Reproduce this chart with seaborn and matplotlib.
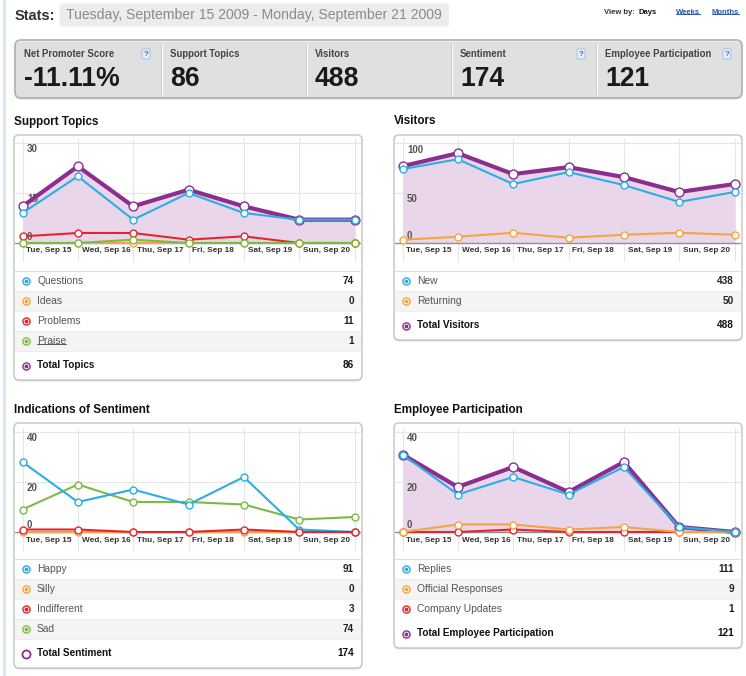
import numpy as np
import matplotlib
matplotlib.use("Agg")
import matplotlib.pyplot as plt
from matplotlib.patches import FancyBboxPatch, Rectangle
from matplotlib.colors import LinearSegmentedColormap
import seaborn as sns

W, H = 746, 676

# --- values ---
days = ["Tue, Sep 15", "Wed, Sep 16", "Thu, Sep 17", "Fri, Sep 18",
        "Sat, Sep 19", "Sun, Sep 20", "Mon, Sep 21"]

stat_labels = ["Net Promoter Score", "Support Topics", "Visitors",
               "Sentiment", "Employee Participation"]
stat_values = ["-11.11%", "86", "488", "174", "121"]
stat_help = [True, False, False, True, True]

topics_questions = [9, 20, 7, 15, 9, 7, 7]
topics_ideas = [0, 0, 0, 0, 0, 0, 0]
topics_problems = [2, 3, 3, 1, 2, 0, 0]
topics_praise = [0, 0, 1, 0, 0, 0, 0]
topics_total = [11, 23, 11, 16, 11, 7, 7]
topics_names = ["Questions", "Ideas", "Problems", "Praise"]
topics_sums = [74, 0, 11, 1]

visitors_new = [74, 84, 59, 71, 58, 41, 51]
visitors_returning = [3, 6, 10, 5, 8, 10, 8]
visitors_total = [77, 90, 69, 76, 66, 51, 59]
visitors_names = ["New", "Returning"]
visitors_sums = [438, 50]

sent_happy = [28, 12, 17, 11, 22, 1, 0]
sent_silly = [0, 0, 0, 0, 0, 0, 0]
sent_indifferent = [1, 1, 0, 0, 1, 0, 0]
sent_sad = [9, 19, 12, 12, 11, 5, 6]
sent_names = ["Happy", "Silly", "Indifferent", "Sad"]
sent_sums = [91, 0, 3, 74]

emp_replies = [31, 15, 22, 15, 26, 2, 0]
emp_official = [0, 3, 3, 1, 2, 0, 0]
emp_updates = [0, 0, 1, 0, 0, 0, 0]
emp_total = [31, 18, 26, 16, 28, 2, 0]
emp_names = ["Replies", "Official Responses", "Company Updates"]
emp_sums = [111, 9, 1]

BLUE = "#2aaee3"
ORANGE = "#f5a443"
RED = "#e3262e"
GREEN = "#7cba44"
PURPLE = "#8b2f8f"
FILL = "#ead6eb"

sns.set_style("white")
plt.rcParams['font.family'] = ['Liberation Sans', 'DejaVu Sans']


def fs(px):
    # pixel size -> points at 100 dpi
    return px * 0.72


fig = plt.figure(figsize=(W / 100, H / 100), dpi=100)
bg = fig.add_axes([0, 0, 1, 1])
bg.set_xlim(0, W)
bg.set_ylim(H, 0)
bg.axis('off')


def rounded(x0, y0, x1, y1, r=5, fc='white', ec='#c6c6c6', lw=1.0, zorder=1, shadow=True):
    style = f"round,pad=0,rounding_size={r}"
    if shadow:
        bg.add_patch(FancyBboxPatch((x0, y0 + 1.5), x1 - x0, y1 - y0, boxstyle=style,
                                    fc='#e0e0e0', ec='none', zorder=zorder - 0.1))
    box = FancyBboxPatch((x0, y0), x1 - x0, y1 - y0, boxstyle=style,
                         fc=fc, ec=ec, lw=lw, zorder=zorder)
    bg.add_patch(box)
    return box


# left page border
bg.plot([4, 4], [0, H], color='#d4e6f1', lw=2, zorder=0)

# --- header ---
bg.text(15, 15.5, "Stats:", fontsize=fs(14.6), fontweight='bold', color='#333', va='center')
rounded(59.5, 3.5, 449, 26.5, r=3, fc='#ececec', ec='none', shadow=False)
bg.text(66, 15.5, "Tuesday, September 15 2009 - Monday, September 21 2009",
        fontsize=fs(14), color='#8a8a8a', va='center', zorder=2)

bg.text(604.3, 12.7, "View by:", fontsize=fs(7.6), fontweight='bold', color='#333', va='center')
bg.text(638.7, 12.7, "Days", fontsize=fs(7.6), fontweight='bold', color='#111', va='center')
link_texts = [bg.text(676, 12.7, "Weeks", fontsize=fs(7.6), fontweight='bold', color='#2b57a8', va='center'),
              bg.text(711.7, 12.7, "Months", fontsize=fs(7.6), fontweight='bold', color='#2b57a8', va='center')]

# --- stats strip ---
stats_box = rounded(15, 40, 742, 98, r=6, fc='none', ec='#b3b3b3', lw=1.3, zorder=3)
cmap = LinearSegmentedColormap.from_list('strip', ['#fcfcfc', '#e4e4e4'])
im = bg.imshow(np.linspace(0, 1, 64).reshape(-1, 1), cmap=cmap, extent=(15, 742, 98, 40),
               aspect='auto', zorder=2)
im.set_clip_path(stats_box)
bg.set_xlim(0, W)
bg.set_ylim(H, 0)

dividers = [161, 306, 451, 596]
for xd in dividers:
    bg.plot([xd, xd], [44, 94], color='#c8c8c8', lw=0.8, zorder=4)
    bg.plot([xd + 1, xd + 1], [44, 94], color='white', lw=0.8, zorder=4)

edges = [15] + dividers + [742]
for i, (lab, val) in enumerate(zip(stat_labels, stat_values)):
    lx = edges[i] + 9
    bg.text(lx, 57.3, lab, fontsize=fs(9.7), fontweight='bold', color='#444', va='baseline', zorder=5)
    bg.text(lx, 85.5, val, fontsize=fs(26.5), fontweight='bold', color='#1a1a1a', va='baseline', zorder=5)
    if stat_help[i]:
        qx = edges[i + 1] - 19
        bg.add_patch(FancyBboxPatch((qx, 49), 8, 10, boxstyle="round,pad=0,rounding_size=1",
                                    fc='#e4eefa', ec='#9dbbe0', lw=0.6, zorder=5))
        bg.text(qx + 4, 54.3, "?", fontsize=fs(8), fontweight='bold', color='#3b6fb6',
                ha='center', va='center', zorder=6)


# --- panels ---
def chart(left, right, top_y, zero_y, ymax, ticks, series, total=None):
    x_first = left + 8.5
    x_last = right - 7.5
    step = (x_last - x_first) / 6
    scale = (zero_y - top_y) / ymax
    ax_top = top_y - 4
    ax_bot = zero_y + 19
    ax = fig.add_axes([(left + 1) / W, 1 - ax_bot / H, (right - left - 2) / W, (ax_bot - ax_top) / H])
    ax.set_facecolor('none')
    idx = list(range(len(days)))

    if total is not None:
        ax.fill_between(idx, total, 0, color=FILL, lw=0, zorder=1)
        sns.lineplot(x=idx, y=total, ax=ax, color=PURPLE, lw=3, marker='o', markersize=6.4,
                     markerfacecolor='white', markeredgecolor=PURPLE, markeredgewidth=1.0,
                     errorbar=None, clip_on=False, zorder=3)
    for vals, col in series:
        sns.lineplot(x=idx, y=vals, ax=ax, color=col, lw=1.5, marker='o', markersize=5,
                     markerfacecolor='white', markeredgecolor=col, markeredgewidth=1.0,
                     errorbar=None, clip_on=False, zorder=4)

    for i in idx:
        ax.axvline(i, color='#e6e6e6', lw=0.8, zorder=0.5)
    for t in ticks:
        if t == 0:
            ax.axhline(0, color='#8f8f8f', lw=1.0, zorder=2)
            dy = 6.5
        else:
            ax.axhline(t, color='#e6e6e6', lw=0.8, zorder=0.5)
            dy = -6.3
        ax.annotate(str(t), xy=(0, t), xycoords=('axes fraction', 'data'), xytext=(12, dy),
                    textcoords='offset pixels', ha='left', va='center', fontsize=fs(9.8),
                    fontweight='bold', color='#555', zorder=1.5, annotation_clip=False)
    for i, d in enumerate(days[:-1]):
        ax.annotate(d, xy=(i, 0), xytext=(4, -8), textcoords='offset pixels', ha='left',
                    va='center', fontsize=fs(8.3), fontweight='bold', color='#333',
                    annotation_clip=False)

    ax.set_xlim((left + 1 - x_first) / step, 6 + (right - 1 - x_last) / step)
    ax.set_ylim(-(ax_bot - zero_y) / scale, ymax + (top_y - ax_top) / scale)
    ax.set_xticks([])
    ax.set_yticks([])
    ax.set_xlabel('')
    ax.set_ylabel('')
    for s in ax.spines.values():
        s.set_visible(False)
    return ax


def icon(x, y, col, hollow=False):
    if hollow:
        bg.scatter([x], [y], s=34, facecolor='white', edgecolor=col, linewidth=1.3, zorder=5)
    else:
        bg.scatter([x], [y], s=38, color=col, linewidth=0, zorder=5)
        bg.scatter([x], [y], s=17, color='white', linewidth=0, zorder=6)
        bg.scatter([x], [y], s=8, color=col, linewidth=0, zorder=7)


def panel(left, right, title_y, top, sep_y, title, names, colors, sums, total_name, total_sum,
          hollow_total=False):
    n = len(names)
    rows_bottom = sep_y + 20 * n
    bottom = rows_bottom + 29
    rounded(left, top, right, bottom, r=5, fc='white', ec='#c3c3c3', lw=1.0, zorder=1)
    bg.text(left, title_y, title, fontsize=fs(11.6), fontweight='bold',
            color='#111', va='center')
    bg.plot([left + 1, right - 1], [sep_y, sep_y], color='#dedede', lw=0.8, zorder=2)
    texts = {}
    for i, (nm, col, sm) in enumerate(zip(names, colors, sums)):
        yc = sep_y + 10 + 20 * i
        if i % 2 == 1:
            bg.add_patch(Rectangle((left + 1, yc - 10), right - left - 2, 20, fc='#f4f4f4',
                                   ec='none', zorder=2))
            bg.plot([left + 1, right - 1], [yc - 10, yc - 10], color='#ebebeb', lw=0.6, zorder=2)
            bg.plot([left + 1, right - 1], [yc + 10, yc + 10], color='#ebebeb', lw=0.6, zorder=2)
        icon(left + 12, yc, col)
        texts[nm] = bg.text(left + 23, yc, nm, fontsize=fs(10.3), color='#555', va='center', zorder=5)
        bg.text(right - 8, yc, str(sm), fontsize=fs(10), fontweight='bold', color='#222',
                ha='right', va='center', zorder=5)
    yt = rows_bottom + 14.5
    icon(left + 12, yt, PURPLE, hollow=hollow_total)
    bg.text(left + 23, yt, total_name, fontsize=fs(10), fontweight='bold', color='#111',
            va='center', zorder=5)
    bg.text(right - 8, yt, str(total_sum), fontsize=fs(10), fontweight='bold', color='#111',
            ha='right', va='center', zorder=5)
    return texts


t1 = panel(14, 362, 121.5, 135, 271, "Support Topics", topics_names,
           [BLUE, ORANGE, RED, GREEN], topics_sums, "Total Topics", 86)
panel(394, 742, 121.5, 135, 271, "Visitors", visitors_names, [BLUE, ORANGE], visitors_sums,
      "Total Visitors", 488)
panel(14, 362, 410, 423, 559, "Indications of Sentiment", sent_names,
      [BLUE, ORANGE, RED, GREEN], sent_sums, "Total Sentiment", 174, hollow_total=True)
panel(394, 742, 410, 423, 559, "Employee Participation", emp_names, [BLUE, ORANGE, RED],
      emp_sums, "Total Employee Participation", 121)

chart(14, 362, 143, 243, 30, [0, 15, 30],
      [(topics_ideas, ORANGE), (topics_problems, RED), (topics_praise, GREEN),
       (topics_questions, BLUE)], total=topics_total)
chart(394, 742, 143.3, 242.7, 100, [0, 50, 100],
      [(visitors_returning, ORANGE), (visitors_new, BLUE)], total=visitors_total)
chart(14, 362, 432, 532, 40, [0, 20, 40],
      [(sent_silly, ORANGE), (sent_sad, GREEN), (sent_happy, BLUE), (sent_indifferent, RED)])
chart(394, 742, 432, 532, 40, [0, 20, 40],
      [(emp_updates, RED), (emp_official, ORANGE), (emp_replies, BLUE)], total=emp_total)

# underlines for the link-style labels
fig.canvas.draw()
inv = bg.transData.inverted()
for t, col in [(t1["Praise"], '#555')] + [(lt, '#2b57a8') for lt in link_texts]:
    bb = t.get_window_extent().transformed(inv)
    ybase = max(bb.y0, bb.y1) - 1.8
    bg.plot([bb.x0, bb.x1], [ybase, ybase], color=col, lw=0.7, zorder=6)

fig.savefig("out.png", dpi=100)
